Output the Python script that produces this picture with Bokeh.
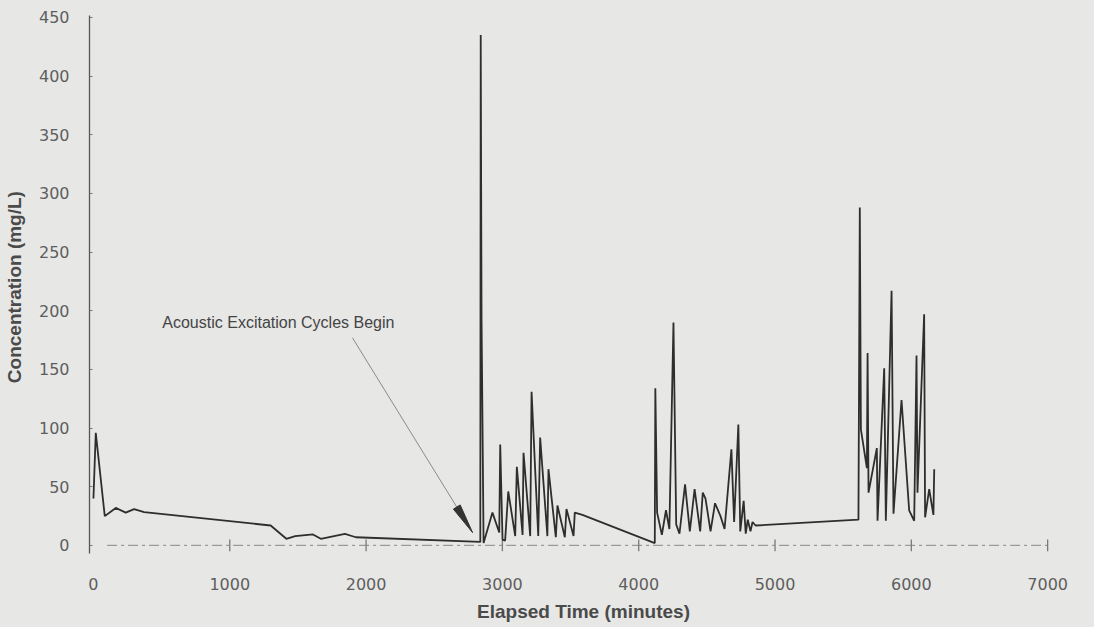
import math
from bokeh.plotting import figure
from bokeh.models import Range1d, FixedTicker, Label
from bokeh.embed import file_html
from bokeh.resources import INLINE

# ---------------- data ----------------
time_min = [0, 17, 83, 164, 237, 298, 372, 1300, 1415, 1480, 1610, 1668, 1845, 1925, 2838,
            2841, 2847, 2862, 2927, 2977, 2984, 3001, 3020, 3043, 3094, 3106, 3148, 3155,
            3204, 3214, 3263, 3277, 3330, 3338, 3392, 3404, 3458, 3470, 3522, 3531, 3587,
            4118, 4122, 4135, 4170, 4200, 4225, 4255, 4275, 4299, 4340, 4375, 4410, 4451,
            4470, 4490, 4527, 4560, 4600, 4630, 4680, 4700, 4731, 4745, 4770, 4785, 4800,
            4820, 4835, 4857, 5612, 5622, 5630, 5674, 5679, 5686, 5747, 5752, 5801, 5813,
            5855, 5869, 5928, 5984, 6021, 6038, 6045, 6094, 6101, 6131, 6162, 6168]
conc = [40, 96, 25, 32, 28, 31, 28.5, 17, 5.7, 8, 9.4, 5.7, 9.8, 7, 3,
        435, 193, 2, 28, 11, 86, 5, 4, 46, 8, 67, 9, 79,
        8, 131, 8, 92, 8, 65, 7, 34, 7, 31, 8, 28, 26,
        2, 134, 28, 9, 30, 14, 190, 18, 10, 52, 12, 48, 12,
        45, 40, 12, 36, 25, 14, 82, 20, 103, 12, 38, 10, 22,
        12, 20, 17, 22, 288, 99, 66, 164, 45, 83, 21, 151, 21,
        217, 27, 124, 30, 21, 162, 45, 197, 24, 48, 26, 65]

x_ticks = [0, 1000, 2000, 3000, 4000, 5000, 6000, 7000]
y_ticks = [0, 50, 100, 150, 200, 250, 300, 350, 400, 450]
axis_marks = [1000, 2000, 3000, 4000, 5000, 6000, 7000]
axis_line_start = 100
axis_line_end = 7000

annotation_text = "Acoustic Excitation Cycles Begin"
annotation_x, annotation_y = 505, 190
arrow_tail_x, arrow_tail_y = 1900, 177
arrow_tip_x, arrow_tip_y = 2781, 11

x_title = "Elapsed Time (minutes)"
y_title = "Concentration  (mg/L)"

# ---------------- figure ----------------
X0, X1 = -29, 7219
Y0, Y1 = -6.85, 451.7
FW, FH = 988, 538
BG = "#e7e7e5"

p = figure(frame_width=FW, frame_height=FH,
           x_range=Range1d(X0, X1), y_range=Range1d(Y0, Y1),
           output_backend="svg", toolbar_location=None,
           min_border_left=89, min_border_right=7, min_border_top=15, min_border_bottom=66,
           background_fill_color=BG, border_fill_color=BG, outline_line_color=None)
p.grid.visible = False

tick_font = "DejaVu Sans"
title_font = "Liberation Sans"

# x axis (labels only; the drawn axis line sits at y = 0)
xa = p.xaxis[0]
xa.ticker = FixedTicker(ticks=x_ticks)
xa.axis_line_color = None
xa.major_tick_line_color = None
xa.minor_tick_line_color = None
xa.major_label_standoff = 18
xa.major_label_text_font = tick_font
xa.major_label_text_font_size = "16px"
xa.major_label_text_color = "#5e5e5e"
xa.axis_label = x_title
xa.axis_label_standoff = 8
xa.axis_label_text_font = title_font
xa.axis_label_text_font_size = "19px"
xa.axis_label_text_font_style = "bold"
xa.axis_label_text_color = "#4a4a4a"

ya = p.yaxis[0]
ya.ticker = FixedTicker(ticks=y_ticks)
ya.axis_line_color = "#555555"
ya.axis_line_width = 1.3
ya.major_tick_in = 3
ya.major_tick_out = 0
ya.major_tick_line_color = "#777777"
ya.minor_tick_line_color = None
ya.major_label_standoff = 20
ya.major_label_text_font = tick_font
ya.major_label_text_font_size = "16px"
ya.major_label_text_color = "#5e5e5e"
ya.axis_label = y_title
ya.axis_label_standoff = 11
ya.axis_label_text_font = title_font
ya.axis_label_text_font_size = "19px"
ya.axis_label_text_font_style = "bold"
ya.axis_label_text_color = "#4a4a4a"

# dashed baseline axis at y = 0 with tick marks
p.segment(x0=[axis_line_start], y0=[0], x1=[axis_line_end], y1=[0],
          line_color="#9a9a9a", line_width=1.2, line_dash="10 4 3 4")
p.segment(x0=axis_marks, y0=[-5] * len(axis_marks), x1=axis_marks, y1=[5] * len(axis_marks),
          line_color="#7a7a7a", line_width=1.3)

# data line
p.line(time_min, conc, line_color="#2e2e2e", line_width=1.8)

# annotation arrow (thin line with a long narrow head)
sx = FW / (X1 - X0)
sy = FH / (Y1 - Y0)
dx = (arrow_tip_x - arrow_tail_x) * sx
dy = (arrow_tip_y - arrow_tail_y) * sy
L = math.hypot(dx, dy)
ux, uy = dx / L, dy / L
nx, ny = -uy, ux
head_len, head_half = 30, 4
bx = arrow_tip_x - head_len * ux / sx
by = arrow_tip_y - head_len * uy / sy
p.segment(x0=[arrow_tail_x], y0=[arrow_tail_y], x1=[bx], y1=[by],
          line_color="#8a8a8a", line_width=1)
p.patch([arrow_tip_x, bx + head_half * nx / sx, bx - head_half * nx / sx],
        [arrow_tip_y, by + head_half * ny / sy, by - head_half * ny / sy],
        fill_color="#333333", line_color="#333333")

p.add_layout(Label(x=annotation_x, y=annotation_y, text=annotation_text,
                   text_font="Liberation Sans", text_font_size="16px",
                   text_color="#444444", text_baseline="middle", text_align="left"))

page_style = "{% block preamble %}<style>body { background: " + BG + "; }</style>{% endblock %}"
open("out.html", "w").write(file_html(p, INLINE, template=page_style))
